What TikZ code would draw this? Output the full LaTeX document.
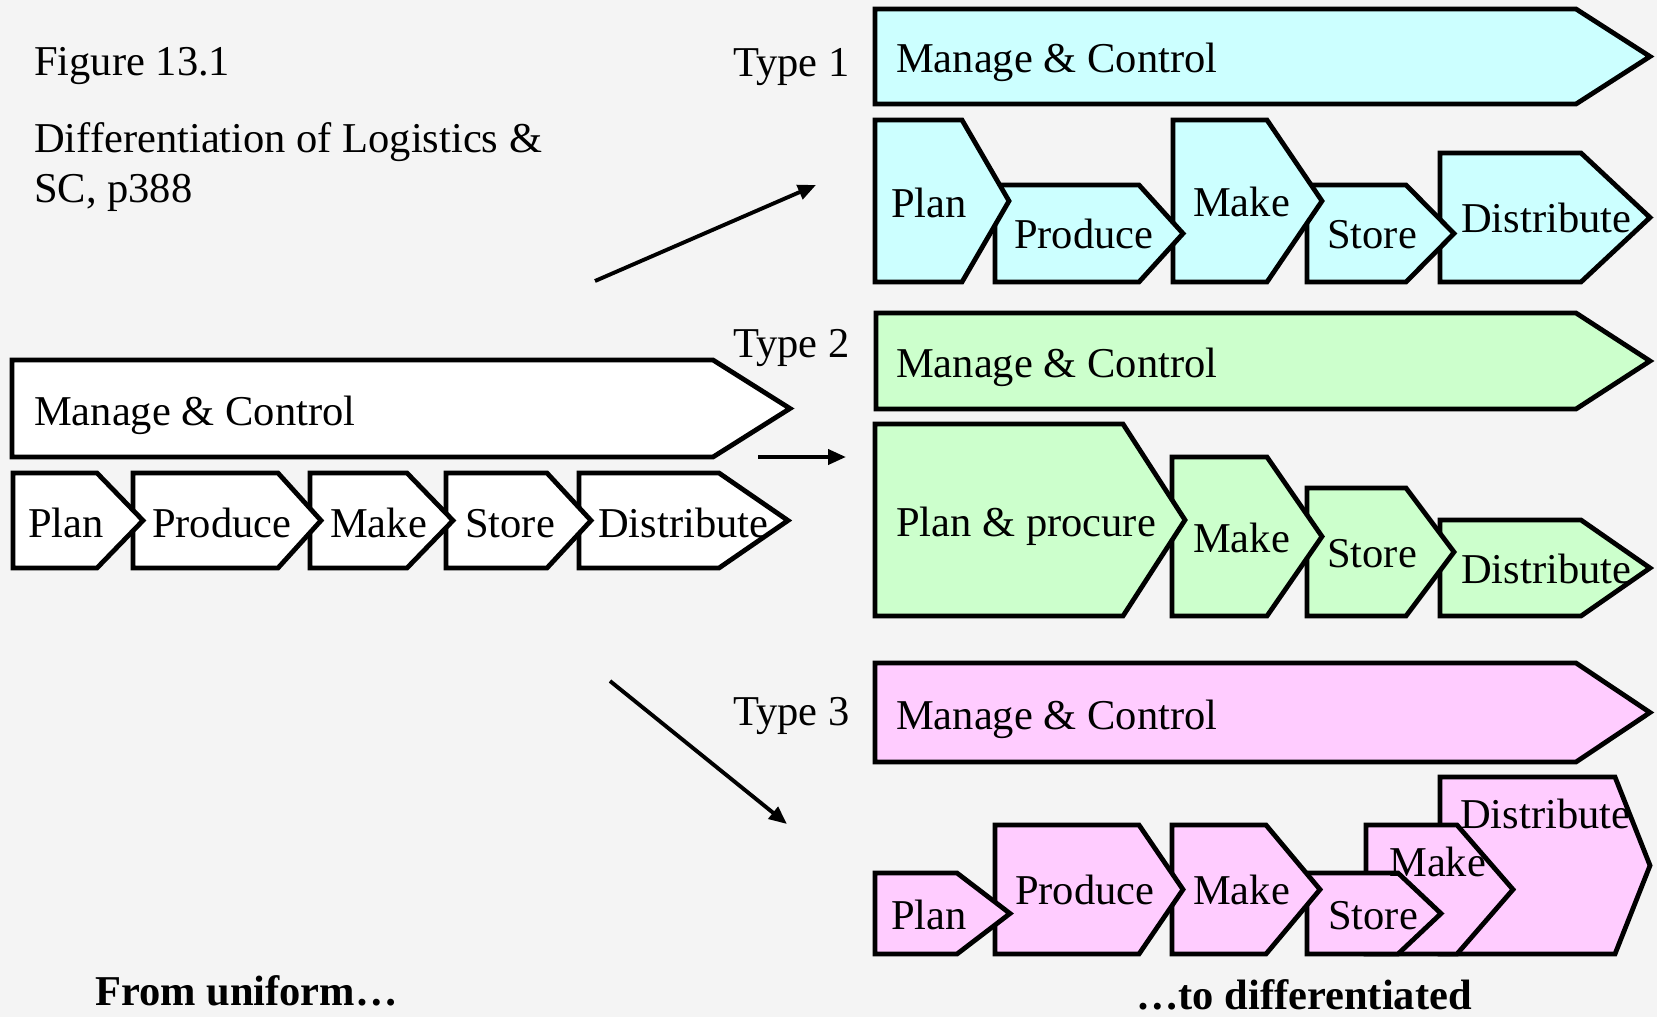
\documentclass[tikz,border=0pt]{standalone}
\usepackage{fontspec}
\setmainfont{Liberation Serif}
\usetikzlibrary{arrows.meta}
\definecolor{bgc}{HTML}{F4F4F4}
\definecolor{cyanf}{HTML}{CCFFFF}
\definecolor{greenf}{HTML}{CCFFCC}
\definecolor{pinkf}{HTML}{FFCCFF}
% #1 fill, #2 left, #3 body end, #4 tip x, #5 top, #6 bottom
\newcommand\pentshape[6]{%
  \draw[boxline,fill=#1] (#2,#5) -- (#3,#5) -- (#4,{(#5+#6)/2}) -- (#3,#6) -- (#2,#6) -- cycle;}
\begin{document}
\begin{tikzpicture}[x=1pt,y=-1pt,
  boxline/.style={line width=4.8pt, line join=miter, draw=black},
  lbl/.style={anchor=base west, inner sep=0pt, font=\fontsize{42.5}{51}\selectfont},
  blbl/.style={lbl, font=\fontsize{42.5}{51}\selectfont\bfseries},
  arr/.style={line width=3.9pt, -{Triangle[length=18pt,width=15pt]}}]
\fill[bgc] (0,0) rectangle (1657,1017);
\useasboundingbox (0,0) rectangle (1657,1017);

% ---------- left (uniform) ----------
\pentshape{white}{12}{713}{790}{360}{457}
\pentshape{white}{579}{719}{788}{473}{568}
\pentshape{white}{446}{547}{591}{473}{568}
\pentshape{white}{310}{407}{453}{473}{568}
\pentshape{white}{133}{278}{321}{473}{568}
\pentshape{white}{13}{97}{143}{473}{568}
\node[lbl] (lmc) at (34,425) {Manage \& Control};
\node[lbl] (lplan) at (28,537) {Plan};
\node[lbl] (lprod) at (152,537) {Produce};
\node[lbl] (lmake) at (330,537) {Make};
\node[lbl] (lstore) at (465,537) {Store};
\node[lbl] (ldist) at (598,537) {Distribute};

% ---------- Type 1 ----------
\pentshape{cyanf}{875}{1576}{1650}{9}{104}
\pentshape{cyanf}{1440}{1581}{1650}{153}{282}
\pentshape{cyanf}{1307}{1406}{1454}{185}{282}
\pentshape{cyanf}{1173}{1267}{1322}{120}{282}
\pentshape{cyanf}{995}{1139}{1183}{185}{282}
\pentshape{cyanf}{875}{962}{1009}{120}{282}
\node[lbl] (t1mc) at (896,72) {Manage \& Control};
\node[lbl] (t1plan) at (891,217) {Plan};
\node[lbl] (t1prod) at (1014,248) {Produce};
\node[lbl] (t1make) at (1193,216) {Make};
\node[lbl] (t1store) at (1327,248) {Store};
\node[lbl] (t1dist) at (1461,232) {Distribute};

% ---------- Type 2 ----------
\pentshape{greenf}{876}{1576}{1650}{313}{409}
\pentshape{greenf}{1440}{1581}{1650}{520}{616}
\pentshape{greenf}{1307}{1406}{1454}{488}{616}
\pentshape{greenf}{1172}{1267}{1322}{457}{616}
\pentshape{greenf}{875}{1123}{1185}{424}{616}
\node[lbl] (t2mc) at (896,377) {Manage \& Control};
\node[lbl] (t2pp) at (896,536) {Plan \& procure};
\node[lbl] (t2make) at (1193,552) {Make};
\node[lbl] (t2store) at (1327,567) {Store};
\node[lbl] (t2dist) at (1461,583) {Distribute};

% ---------- Type 3 ----------
\pentshape{pinkf}{875}{1576}{1650}{663}{762}
\pentshape{pinkf}{1440}{1615}{1650}{777}{954}
\pentshape{pinkf}{1366}{1457}{1513}{825}{954}
\pentshape{pinkf}{1307}{1398}{1441}{873}{954}
\pentshape{pinkf}{1172}{1266}{1320}{825}{954}
\pentshape{pinkf}{995}{1139}{1183}{825}{954}
\pentshape{pinkf}{875}{957}{1010}{873}{954}
\node[lbl] (t3mc) at (896,729) {Manage \& Control};
\node[lbl] (t3plan) at (891,929) {Plan};
\node[lbl] (t3prod) at (1015,904) {Produce};
\node[lbl] (t3make) at (1193,904) {Make};
\node[lbl] (t3store) at (1328,929) {Store};
\node[lbl] (t3make2) at (1389,876) {Make};
\node[lbl] (t3dist) at (1460,828) {Distribute};

% ---------- labels ----------
\node[lbl] (fig) at (34,75) {Figure 13.1};
\node[lbl] (cap1) at (34,152) {Differentiation of Logistics \&};
\node[lbl] (cap2) at (34,202) {SC, p388};
\node[lbl] (ty1) at (733,76) {Type 1};
\node[lbl] (ty2) at (733,357) {Type 2};
\node[lbl] (ty3) at (733,725) {Type 3};
\node[blbl] (from) at (95,1005) {From uniform…};
\node[blbl] (to) at (1136,1009) {…to differentiated};

% ---------- arrows ----------
\coordinate (a1s) at (595,281);
\coordinate (a1e) at (816,185);
\coordinate (a2s) at (758,457);
\coordinate (a2e) at (846,457);
\coordinate (a3s) at (610,681);
\coordinate (a3e) at (787,824);
\draw[arr] (a1s) -- (a1e);
\draw[arr] (a2s) -- (a2e);
\draw[arr] (a3s) -- (a3e);
\end{tikzpicture}
\end{document}
